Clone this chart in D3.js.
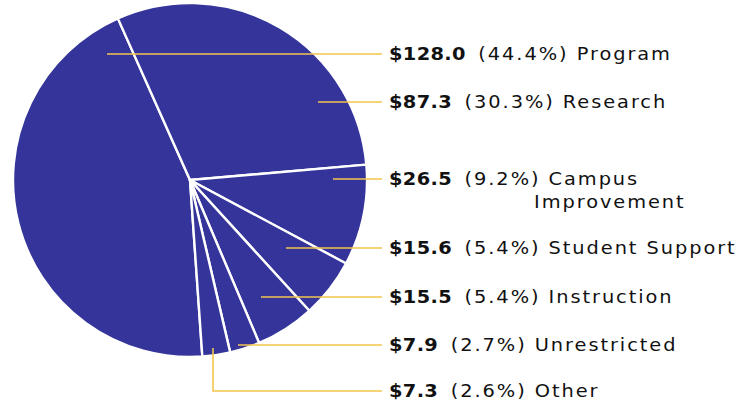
<!DOCTYPE html>
<html>
<head>
<meta charset="utf-8">
<script src="https://cdn.jsdelivr.net/npm/d3@7"></script>
<style>
  body { margin: 0; background: #fff; }
  svg { display: block; }
  .lbl { font-family: "DejaVu Sans", Verdana, sans-serif; font-size: 17px; fill: #111; letter-spacing: 1.7px; }
  .val { font-weight: bold; letter-spacing: 0.3px; }
</style>
</head>
<body>
<script>
// data
var categories = ["Program", "Research", "Campus Improvement", "Student Support",
                  "Instruction", "Unrestricted", "Other"];
var amounts = [128.0, 87.3, 26.5, 15.6, 15.5, 7.9, 7.3];
var percents = [44.4, 30.3, 9.2, 5.4, 5.4, 2.7, 2.6];

// layout: label rows and where each leader starts inside the pie
var labelY = [54, 102, 179, 248, 297, 345, 391];
var leaderX = [107, 318, 333, 286, 261, 238, 213];

var width = 752, height = 408;
var cx = 190, cy = 180, radius = 177;
var labelX = 389, leaderEnd = 382;
var stretch = 1.14;   // the labels are wide, verdana-ish

var svg = d3.select("body")
            .append("svg")
            .attr("width", width)
            .attr("height", height);

var data = categories.map(function(c, i){
    return {name: c, amount: amounts[i], pct: percents[i], y: labelY[i], lx: leaderX[i]};
});

// pie starts at ~176 degrees so Program wraps round the left side
var start = 176 * Math.PI / 180;
var pie = d3.pie()
            .sort(null)
            .value(function(d){ return d.amount; })
            .startAngle(start)
            .endAngle(start + 2 * Math.PI);

var arc = d3.arc().innerRadius(0).outerRadius(radius);

var g = svg.append("g")
           .attr("transform", "translate(" + cx + "," + cy + ")");

g.selectAll("path")
 .data(pie(data))
 .enter()
 .append("path")
 .attr("d", arc)
 .style("fill", "#34349a")
 .style("stroke", "#ffffff")
 .style("stroke-width", 2.4)
 .style("stroke-linejoin", "round");

// leader lines
var leaders = svg.append("g").attr("class", "leaders");
data.forEach(function(d, i){
    var pts;
    if (d.name == "Other"){
        // the last one drops down below the pie first
        pts = [[d.lx, 348], [d.lx, d.y], [leaderEnd, d.y]];
    } else {
        pts = [[d.lx, d.y], [leaderEnd, d.y]];
    }
    leaders.append("path")
           .attr("d", d3.line()(pts))
           .style("fill", "none")
           .style("stroke", "#f2c54c")
           .style("stroke-width", 1.6);
});

// labels
var labels = svg.append("g").attr("class", "labels");
const addText = function(x, y){
    return labels.append("text")
                 .attr("class", "lbl")
                 .attr("transform", "translate(" + x + "," + y + ") scale(" + stretch + ",1)")
                 .attr("dy", "0.36em");
};
data.forEach(function(d){
    var t = addText(labelX, d.y);
    t.append("tspan").attr("class", "val").text("$" + d.amount.toFixed(1));
    var words = d.name.split(" ");
    if (d.name == "Campus Improvement"){
        t.append("tspan").attr("dx", 11).text("(" + d.pct.toFixed(1) + "%) " + words[0]);
        addText(534, d.y + 23).text(words[1]);
    } else {
        t.append("tspan").attr("dx", 11).text("(" + d.pct.toFixed(1) + "%) " + d.name);
    }
});
</script>
</body>
</html>
